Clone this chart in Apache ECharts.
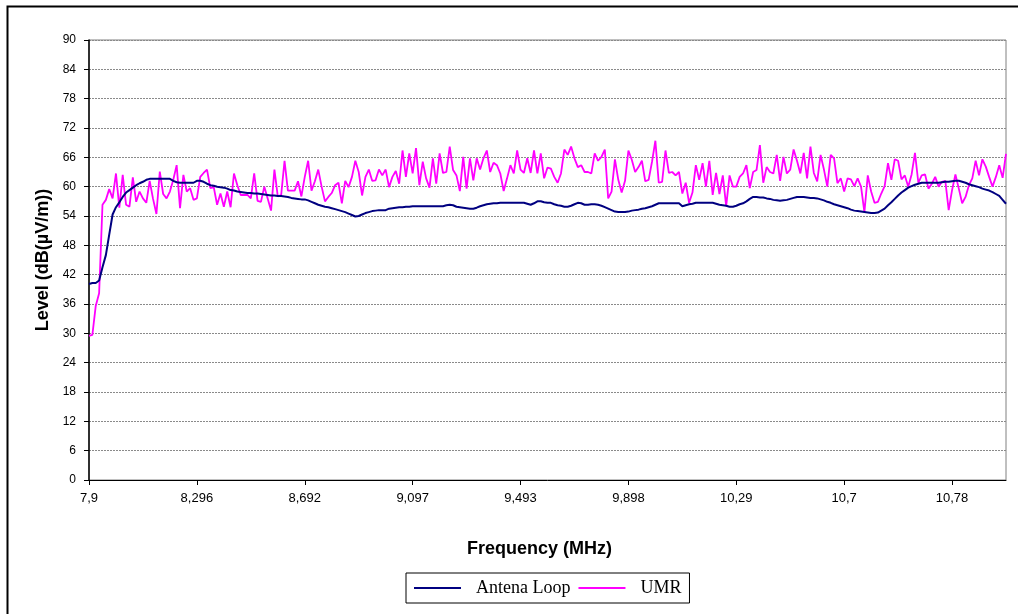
<!DOCTYPE html>
<html>
<head>
<meta charset="utf-8">
<script src="https://cdn.jsdelivr.net/npm/echarts@6/dist/echarts.min.js"></script>
<style>
html,body{margin:0;padding:0;background:#fff;}
#chart{width:1018px;height:614px;}
</style>
</head>
<body>
<div id="chart"></div>
<script>
// Tick labels shown every 32 samples along the frequency axis
var tickLabels = ['7,9','8,296','8,692','9,097','9,493','9,898','10,29','10,7','10,78'];
var labelStep = 32;
var seriesNames = ['Antena Loop', 'UMR'];

var antenaLoop = [
40.1,40.3,40.3,40.8,43.5,46.0,50.2,54.3,55.8,56.8,57.9,58.8,59.3,59.8,60.3,60.7,61.0,61.4,61.6,61.6,
61.6,61.6,61.6,61.6,61.6,61.2,60.9,60.8,60.8,60.8,60.8,60.8,61.2,61.2,61.0,60.6,60.3,60.2,60.0,59.9,
59.8,59.6,59.3,59.2,59.0,58.9,58.8,58.7,58.7,58.6,58.6,58.5,58.4,58.3,58.2,58.2,58.1,58.1,58.0,57.9,
57.7,57.6,57.5,57.4,57.4,57.2,56.9,56.6,56.3,56.1,55.9,55.8,55.6,55.4,55.2,55.0,54.8,54.5,54.2,53.9,
54.0,54.3,54.6,54.8,55.0,55.1,55.2,55.2,55.2,55.5,55.6,55.7,55.8,55.8,55.9,55.9,56.0,56.0,56.0,56.0,
56.0,56.0,56.0,56.0,56.0,56.0,56.2,56.3,56.2,55.9,55.8,55.7,55.6,55.5,55.5,55.7,56.0,56.2,56.4,56.5,
56.6,56.6,56.7,56.7,56.7,56.7,56.7,56.7,56.7,56.7,56.5,56.3,56.6,57.0,57.0,56.8,56.7,56.7,56.4,56.2,
56.1,55.9,55.9,56.1,56.4,56.7,56.6,56.3,56.3,56.4,56.4,56.3,56.1,55.8,55.5,55.2,54.9,54.8,54.8,54.8,
54.9,55.1,55.2,55.3,55.5,55.6,55.8,56.0,56.3,56.6,56.6,56.6,56.6,56.6,56.6,56.6,56.0,56.2,56.4,56.5,
56.7,56.7,56.7,56.7,56.7,56.7,56.5,56.3,56.2,56.1,55.9,55.9,56.1,56.4,56.6,57.0,57.5,57.9,57.9,57.8,
57.8,57.6,57.5,57.3,57.2,57.1,57.2,57.3,57.5,57.7,57.9,57.9,57.9,57.8,57.7,57.7,57.6,57.4,57.2,56.9,
56.7,56.4,56.2,56.0,55.8,55.6,55.3,55.1,55.0,54.9,54.8,54.7,54.6,54.6,54.7,55.1,55.5,56.2,56.8,57.5,
58.2,58.8,59.3,59.8,60.1,60.4,60.6,60.8,60.8,60.8,60.8,60.8,60.8,60.9,61.0,61.0,61.1,61.2,61.2,61.0,
60.8,60.5,60.3,60.1,59.9,59.6,59.4,59.2,58.9,58.5,58.1,57.3,56.5
];

var umr = [
29.5,29.7,35.6,38.2,56.3,57.3,59.5,57.6,62.7,55.7,62.4,56.3,55.9,61.9,56.9,59.0,57.6,56.7,61.2,57.5,
54.4,63.1,58.5,57.6,59.0,61.4,64.4,55.6,62.4,59.0,59.7,57.3,57.6,62.0,62.8,63.5,59.7,59.9,56.3,58.6,
55.9,59.0,55.8,62.7,60.3,58.3,58.3,58.3,57.6,62.7,57.1,56.9,60.0,57.6,55.1,63.5,58.0,58.3,65.3,59.2,
59.2,59.2,61.1,58.0,62.0,65.3,59.2,61.1,63.5,60.0,57.0,57.9,58.7,60.3,60.8,56.6,61.2,59.9,62.0,65.3,
63.0,58.2,62.0,63.5,61.2,61.3,63.5,62.3,63.5,59.9,62.0,63.2,60.6,67.4,62.0,66.8,62.7,67.9,60.3,65.1,
61.7,59.8,65.8,60.6,66.8,62.8,63.0,68.2,63.4,62.3,59.1,66.1,59.6,65.8,61.3,65.8,63.5,65.8,67.4,63.0,
64.9,64.4,62.7,59.1,61.7,64.4,62.7,67.4,63.5,62.8,65.8,62.8,67.4,62.7,66.8,61.7,63.9,63.7,62.0,60.8,
62.7,67.6,66.5,68.2,65.8,64.0,64.4,63.0,63.0,62.7,66.8,65.3,66.1,67.6,57.6,59.0,65.6,61.4,58.8,61.2,
67.4,65.5,63.0,64.0,65.3,61.1,61.4,65.1,69.4,60.8,61.0,67.4,62.8,63.0,62.3,63.0,58.6,60.8,56.7,58.8,
64.4,61.4,64.8,60.0,65.3,58.3,62.8,58.5,62.3,56.0,62.3,60.0,60.0,62.0,62.7,64.4,59.7,63.0,63.4,68.5,
60.8,64.0,63.0,62.7,66.5,61.2,66.1,62.7,63.5,67.6,65.3,62.7,66.9,61.7,68.2,62.8,61.1,66.5,63.5,60.0,
66.5,65.8,60.7,61.7,59.0,61.7,61.5,60.1,61.7,60.0,54.8,62.3,59.0,56.7,56.9,58.6,60.1,64.8,61.4,65.6,
65.3,61.5,62.3,60.0,62.5,66.9,60.8,62.3,62.5,59.6,60.6,62.0,60.0,61.0,61.2,55.2,59.3,62.5,59.6,56.6,
57.9,60.3,61.7,65.3,62.3,65.6,64.1,62.0,60.0,62.0,64.4,61.8,66.7
];

var categories = antenaLoop.map(function (v, i) {
  return (i % labelStep === 0) ? tickLabels[i / labelStep] : '';
});

var chart = echarts.init(document.getElementById('chart'), null, {renderer: 'canvas'});
chart.setOption({
  animation: false,
  backgroundColor: '#ffffff',
  grid: {
    left: 89, right: 12, top: 40, bottom: 134,
    show: true, borderColor: '#808080', borderWidth: 1, backgroundColor: 'transparent'
  },
  graphic: [{
    type: 'rect', left: 5, top: 4, silent: true,
    shape: {width: 1040, height: 640},
    style: {fill: 'none', stroke: '#000', lineWidth: 2},
    z: 100
  }],
  legend: {
    data: [
      {name: seriesNames[0], icon: 'rect'},
      {name: seriesNames[1], icon: 'rect'}
    ],
    left: 406, top: 573,
    orient: 'horizontal',
    itemWidth: 47, itemHeight: 2, itemGap: 8,
    borderColor: '#000', borderWidth: 1,
    padding: [6, 8, 6, 8],
    textStyle: {fontFamily: '"Liberation Serif", "Times New Roman", serif', fontSize: 18, color: '#000', padding: [0, 0, 0, 10]}
  },
  xAxis: {
    type: 'category',
    data: categories,
    boundaryGap: false,
    name: 'Frequency (MHz)',
    nameLocation: 'middle',
    nameGap: 60,
    nameTextStyle: {fontFamily: '"Liberation Sans", Arial, sans-serif', fontWeight: 'bold', fontSize: 18, color: '#000', padding: [0, 16, 0, 0]},
    axisLine: {show: true, lineStyle: {color: '#000', width: 1}},
    axisTick: {show: true, interval: labelStep - 1, length: 5, lineStyle: {color: '#000'}},
    axisLabel: {
      interval: labelStep - 1, margin: 12, color: '#000',
      fontFamily: '"Liberation Sans Narrow", "Arial Narrow", "Liberation Sans", sans-serif', fontSize: 13
    },
    splitLine: {show: false}
  },
  yAxis: {
    type: 'value',
    min: 0, max: 90, interval: 6,
    name: 'Level (dB(\u00b5V/m))',
    nameLocation: 'middle',
    nameGap: 30,
    nameRotate: 90,
    nameTextStyle: {fontFamily: '"Liberation Sans", Arial, sans-serif', fontWeight: 'bold', fontSize: 18, color: '#000'},
    axisLine: {show: true, lineStyle: {color: '#000', width: 1.5}},
    axisTick: {show: true, inside: false, length: 5, lineStyle: {color: '#000'}},
    axisLabel: {margin: 13, color: '#000', fontFamily: '"Liberation Sans", Arial, sans-serif', fontSize: 12},
    splitLine: {show: true, lineStyle: {color: '#8a8a8a', type: [2, 1], width: 1}}
  },
  series: [
    {
      name: seriesNames[0], type: 'line', data: antenaLoop,
      symbol: 'none', smooth: false,
      lineStyle: {color: '#000080', width: 2},
      itemStyle: {color: '#000080'},
      z: 3
    },
    {
      name: seriesNames[1], type: 'line', data: umr,
      symbol: 'none', smooth: false,
      lineStyle: {color: '#ff00ff', width: 1.8},
      itemStyle: {color: '#ff00ff'},
      z: 2
    }
  ]
});
</script>
</body>
</html>
